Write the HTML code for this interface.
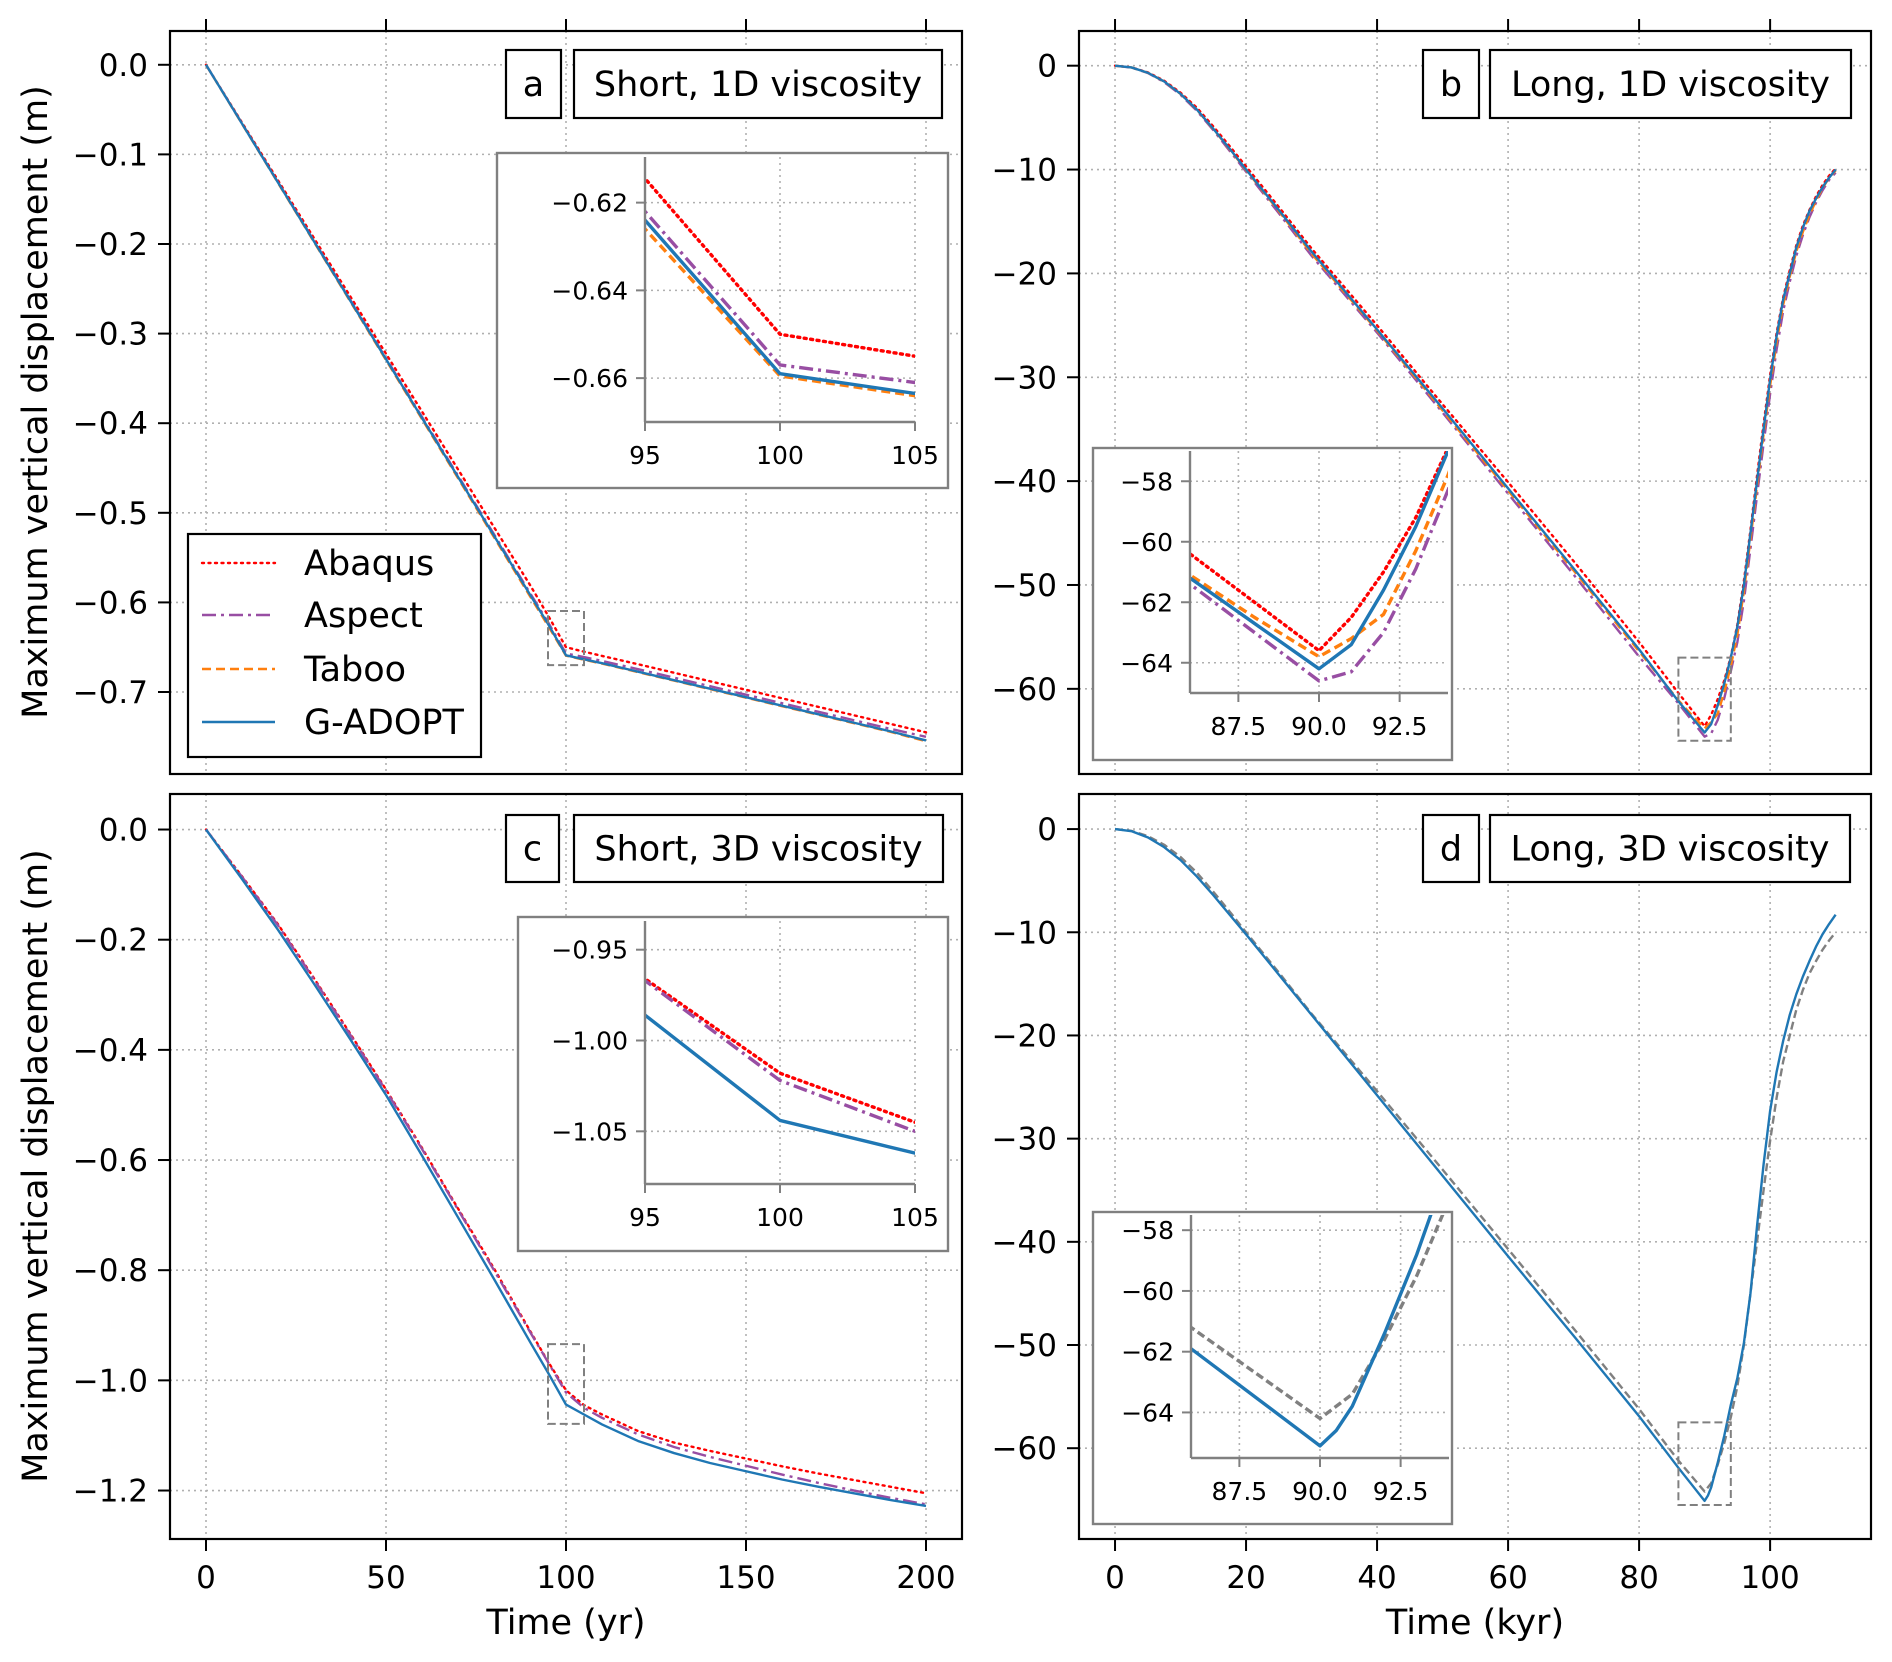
<!DOCTYPE html>
<html><head><meta charset="utf-8">
<style>
html,body{margin:0;padding:0;background:#fff;}
svg{display:block;font-family:"DejaVu Sans","Liberation Sans",sans-serif;}
</style></head>
<body>
<svg id="fig" width="1892" height="1662" viewBox="0 0 1892 1662" xmlns="http://www.w3.org/2000/svg">
<rect width="1892" height="1662" fill="#fff"/>
</svg>
<script>
// ---------- DATA ----------
// Panel a (Short, 1D viscosity), time in yr
const tA = [0,10,20,30,40,50,60,70,80,90,95,100,105,110,120,130,140,150,160,170,180,190,200];
const aAbaqus = [0,-0.0645,-0.129,-0.1935,-0.258,-0.3225,-0.387,-0.4515,-0.516,-0.5805,-0.6145,-0.650,-0.655,-0.6597,-0.669,-0.6785,-0.688,-0.6975,-0.707,-0.7165,-0.726,-0.7355,-0.745];
const aAspect = [0,-0.0655,-0.131,-0.1965,-0.262,-0.3275,-0.393,-0.4585,-0.524,-0.5895,-0.622,-0.657,-0.661,-0.6653,-0.6745,-0.684,-0.6935,-0.703,-0.7125,-0.722,-0.7315,-0.741,-0.750];
const aTaboo = [0,-0.0659,-0.1318,-0.1977,-0.2636,-0.3295,-0.3954,-0.4613,-0.5272,-0.5931,-0.626,-0.6595,-0.664,-0.6683,-0.6778,-0.6873,-0.6968,-0.7063,-0.7158,-0.7253,-0.7348,-0.7443,-0.755];
const aGadopt = [0,-0.0657,-0.1314,-0.1971,-0.2628,-0.3285,-0.3942,-0.4599,-0.5256,-0.5913,-0.624,-0.659,-0.6635,-0.6678,-0.6773,-0.6868,-0.6963,-0.7058,-0.7153,-0.7248,-0.7343,-0.7438,-0.754];
// Panel c (Short, 3D viscosity)
const tC = [0,10,20,30,40,50,60,70,80,90,95,100,105,110,120,130,140,150,160,170,180,190,200];
const cAbaqus = [0,-0.085,-0.172,-0.27,-0.37,-0.472,-0.578,-0.688,-0.797,-0.91,-0.966,-1.018,-1.045,-1.062,-1.092,-1.113,-1.128,-1.142,-1.156,-1.169,-1.181,-1.193,-1.205];
const cAspect = [0,-0.086,-0.174,-0.272,-0.372,-0.474,-0.58,-0.69,-0.8,-0.912,-0.967,-1.022,-1.05,-1.068,-1.098,-1.121,-1.139,-1.155,-1.171,-1.186,-1.2,-1.213,-1.225];
const cGadopt = [0,-0.09,-0.182,-0.28,-0.38,-0.482,-0.592,-0.704,-0.816,-0.93,-0.986,-1.044,-1.062,-1.08,-1.11,-1.132,-1.15,-1.165,-1.18,-1.193,-1.205,-1.217,-1.228];
// Panel b (Long, 1D viscosity), time in kyr
const tB = [0,2.5,5,7.5,10,12.5,15,17.5,20,25,30,40,50,60,70,80,86,88,90,91,92,93,94,95,96,97,98,99,100,101,102,103,104,105,106,107,108,109,110];
const bAbaqus = [0,-0.16,-0.64,-1.45,-2.6,-4.05,-5.85,-7.75,-9.7,-13.6,-17.6,-25.0,-32.6,-40.1,-47.7,-55.5,-60.4,-62.0,-63.6,-62.5,-61.0,-59.2,-56.9,-53.8,-49.6,-44.7,-39.5,-34.5,-29.8,-25.7,-22.3,-19.7,-17.3,-15.4,-13.9,-12.6,-11.5,-10.6,-9.9];
const bAspect = [0,-0.18,-0.7,-1.58,-2.8,-4.35,-6.2,-8.2,-10.2,-14.2,-18.3,-25.7,-33.4,-41.2,-49.0,-56.9,-61.4,-63.0,-64.6,-64.3,-63.0,-60.9,-58.3,-55.5,-51.5,-46.5,-41.4,-36.4,-31.6,-27.3,-23.6,-20.8,-18.3,-16.3,-14.6,-13.2,-12.0,-11.0,-10.3];
const bTaboo = [0,-0.17,-0.68,-1.53,-2.72,-4.25,-6.1,-8.05,-10.05,-14.0,-18.1,-25.5,-33.2,-40.9,-48.6,-56.4,-61.1,-62.5,-63.8,-63.2,-62.4,-60.3,-57.8,-54.8,-50.6,-45.6,-40.5,-35.5,-30.8,-26.6,-23.0,-20.3,-17.9,-16.0,-14.4,-13.0,-11.8,-10.8,-10.1];
const bGadopt = [0,-0.17,-0.68,-1.52,-2.71,-4.23,-6.07,-8.0,-10.0,-13.9,-17.9,-25.4,-33.0,-40.7,-48.4,-56.2,-61.2,-62.7,-64.2,-63.4,-61.6,-59.5,-57.0,-54.0,-50.0,-45.0,-40.0,-35.0,-30.2,-26.0,-22.5,-20.0,-17.5,-15.6,-14.0,-12.8,-11.7,-10.8,-10.0];
// Panel d (Long, 3D viscosity)
const tD = [0,2.5,5,7.5,10,12.5,15,17.5,20,25,30,40,50,60,70,80,86,88,90,90.5,91,92,93,94,95,96,97,98,99,100,101,102,103,104,105,106,107,108,109,110];
const dGadopt = [0,-0.2,-0.8,-1.75,-3.0,-4.6,-6.4,-8.3,-10.2,-14.1,-18.0,-25.8,-33.6,-41.4,-49.1,-56.9,-61.9,-63.5,-65.1,-64.6,-63.8,-61.4,-58.8,-55.8,-53.2,-49.8,-45.0,-38.5,-32.5,-27.3,-23.5,-20.5,-18.0,-16.0,-14.3,-12.8,-11.4,-10.2,-9.2,-8.3];
const dRef = bGadopt.slice();
const tDref = tB.slice();
// Tick labels
const xTicksShort = [0,50,100,150,200];
const xTicksLong = [0,20,40,60,80,100];
const yTicksA = [0.0,-0.1,-0.2,-0.3,-0.4,-0.5,-0.6,-0.7];
const yTicksC = [0.0,-0.2,-0.4,-0.6,-0.8,-1.0,-1.2];
const yTicksLong = [0,-10,-20,-30,-40,-50,-60];
const insetXShort = [95,100,105];
const insetXLong = [87.5,90.0,92.5];
const insetYA = [-0.62,-0.64,-0.66];
const insetYC = [-0.95,-1.00,-1.05];
const insetYLong = [-58,-60,-62,-64];
const legendLabels = ["Abaqus","Aspect","Taboo","G-ADOPT"];

// ---------- DRAWING ----------
const NS="http://www.w3.org/2000/svg";
const svg=document.getElementById('fig');
function mk(tag,attrs,parent){const e=document.createElementNS(NS,tag);for(const k in attrs)e.setAttribute(k,attrs[k]);(parent||svg).appendChild(e);return e;}
const STY={
 abaqus:{stroke:'#ff0000',dash:'2,4.5',cap:'round'},
 aspect:{stroke:'#984ea3',dash:'14,5,3,5',cap:'butt'},
 taboo:{stroke:'#ff7f0e',dash:'9,5',cap:'butt'},
 gadopt:{stroke:'#1f77b4',dash:'',cap:'butt'},
 ref:{stroke:'#808080',dash:'8,4',cap:'butt'}
};
function fmt(v,d){const s=Math.abs(v).toFixed(d);return (v<0?'\u2212':'')+s;}
let clipId=0;
function axes(o){
 const sx=v=>o.x0+(v-o.xmin)/(o.xmax-o.xmin)*(o.x1-o.x0);
 const sy=v=>o.y1-(v-o.ymin)/(o.ymax-o.ymin)*(o.y1-o.y0);
 return {sx,sy};
}
function line(g,ax,xs,ys,sty,w,name){
 let d='';
 for(let i=0;i<xs.length;i++){d+=(i?'L':'M')+ax.sx(xs[i]).toFixed(2)+','+ax.sy(ys[i]).toFixed(2);}
 const p=mk('path',{d:d,fill:'none',stroke:sty.stroke,'stroke-width':w,'stroke-dasharray':sty.dash,'stroke-linecap':sty.cap,'stroke-linejoin':'round'},g);
 
 
 return p;
}
function panel(P){
 const g=mk('g',{});
 
 
 const ax=axes(P);
 const grid=mk('g',{stroke:'#b0b0b0','stroke-width':1.6,'stroke-dasharray':'2,4'},g);
 
 
 P.xt.forEach(v=>mk('line',{x1:ax.sx(v),x2:ax.sx(v),y1:P.y0,y2:P.y1},grid));
 P.yt.forEach(v=>mk('line',{x1:P.x0,x2:P.x1,y1:ax.sy(v),y2:ax.sy(v)},grid));
 const cid='c'+(clipId++);
 const cp=mk('clipPath',{id:cid},g);mk('rect',{x:P.x0,y:P.y0,width:P.x1-P.x0,height:P.y1-P.y0},cp);
 const lg=mk('g',{'clip-path':'url(#'+cid+')'},g);
 P.series.forEach(s=>line(lg,ax,s.x,s.y,STY[s.s],2.4,s.n));
 const zr=mk('rect',{x:ax.sx(P.inset.xmin),y:ax.sy(P.inset.ymax),width:ax.sx(P.inset.xmax)-ax.sx(P.inset.xmin),height:ax.sy(P.inset.ymin)-ax.sy(P.inset.ymax),fill:'none',stroke:'#808080','stroke-width':2,'stroke-dasharray':'8,4'},g);
 
 
 const sp=mk('rect',{x:P.x0,y:P.y0,width:P.x1-P.x0,height:P.y1-P.y0,fill:'none',stroke:'#000','stroke-width':2.2},g);
 
 
 P.yt.forEach((v,i)=>{
  const y=ax.sy(v);
  mk('line',{x1:P.x0-12,x2:P.x0,y1:y,y2:y,stroke:'#000','stroke-width':2},g);
  const t=mk('text',{x:P.x0-22,y:y+11,'text-anchor':'end','font-size':31,fill:'#000'},g);
  t.textContent=P.ylab[i];
  
  
 });
 P.xt.forEach(v=>{
  const x=ax.sx(v);
  if(P.topTicks){mk('line',{x1:x,x2:x,y1:P.y0-12,y2:P.y0,stroke:'#000','stroke-width':2},g);}
  else{
   mk('line',{x1:x,x2:x,y1:P.y1,y2:P.y1+12,stroke:'#000','stroke-width':2},g);
   const t=mk('text',{x:x,y:P.y1+49,'text-anchor':'middle','font-size':31,fill:'#000'},g);
   t.textContent=String(v);
   
   
  }
 });
 const lb=P.lbox;
 const r1=mk('rect',{x:lb[0],y:lb[2],width:lb[1]-lb[0],height:lb[3]-lb[2],fill:'#fff',stroke:'#000','stroke-width':2.2},g);
 
 
 const t1=mk('text',{x:(lb[0]+lb[1])/2,y:(lb[2]+lb[3])/2+12,'text-anchor':'middle','font-size':35},g);
 t1.textContent=P.letter;
 
 
 const tb=P.tbox;
 const r2=mk('rect',{x:tb[0],y:tb[2],width:tb[1]-tb[0],height:tb[3]-tb[2],fill:'#fff',stroke:'#000','stroke-width':2.2},g);
 
 
 const t2=mk('text',{x:(tb[0]+tb[1])/2,y:(tb[2]+tb[3])/2+12,'text-anchor':'middle','font-size':35},g);
 t2.textContent=P.title;
 
 
 const I=P.inset;
 const ig=mk('g',{},g);
 
 
 mk('rect',{x:I.bx0,y:I.by0,width:I.bx1-I.bx0,height:I.by1-I.by0,fill:'#fff',stroke:'#808080','stroke-width':2.4},ig);
 const ia=axes({x0:I.x0,x1:I.x1,y0:I.y0,y1:I.y1,xmin:I.xmin,xmax:I.xmax,ymin:I.ymin,ymax:I.ymax});
 const igr=mk('g',{stroke:'#b0b0b0','stroke-width':1.6,'stroke-dasharray':'2,4'},ig);
 I.xt.forEach(v=>mk('line',{x1:ia.sx(v),x2:ia.sx(v),y1:I.y0,y2:I.y1},igr));
 I.yt.forEach(v=>mk('line',{x1:I.x0,x2:I.x1,y1:ia.sy(v),y2:ia.sy(v)},igr));
 const cid2='c'+(clipId++);
 const cp2=mk('clipPath',{id:cid2},ig);mk('rect',{x:I.x0,y:I.y0,width:I.x1-I.x0,height:I.y1-I.y0},cp2);
 const ilg=mk('g',{'clip-path':'url(#'+cid2+')'},ig);
 P.series.forEach(s=>line(ilg,ia,s.x,s.y,STY[s.s],3.4,'inset-'+s.n));
 mk('line',{x1:I.x0,x2:I.x0,y1:I.y0,y2:I.y1,stroke:'#808080','stroke-width':2.4},ig);
 mk('line',{x1:I.x0,x2:I.x1,y1:I.y1,y2:I.y1,stroke:'#808080','stroke-width':2.4},ig);
 I.yt.forEach((v,i)=>{const y=ia.sy(v);
  mk('line',{x1:I.x0-9,x2:I.x0,y1:y,y2:y,stroke:'#808080','stroke-width':2},ig);
  const t=mk('text',{x:I.x0-17,y:y+9,'text-anchor':'end','font-size':25},ig);
  t.textContent=I.ylab[i];
  
  });
 I.xt.forEach((v,i)=>{const x=ia.sx(v);
  mk('line',{x1:x,x2:x,y1:I.y1,y2:I.y1+9,stroke:'#808080','stroke-width':2},ig);
  const t=mk('text',{x:x,y:I.y1+42,'text-anchor':'middle','font-size':25},ig);
  t.textContent=I.xlab[i];
  
  });
 return g;
}
const shortInsetA={bx0:497,bx1:948,by0:153,by1:488,x0:645,x1:915,y0:157,y1:422,xmin:95,xmax:105,ymin:-0.670,ymax:-0.6096,xt:insetXShort,yt:insetYA,xlab:insetXShort.map(String),ylab:insetYA.map(v=>fmt(v,2))};
const shortInsetC={bx0:518,bx1:948,by0:917,by1:1251,x0:645,x1:915,y0:921,y1:1184,xmin:95,xmax:105,ymin:-1.079,ymax:-0.9342,xt:insetXShort,yt:insetYC,xlab:insetXShort.map(String),ylab:insetYC.map(v=>fmt(v,2))};
const longInsetB={bx0:1093,bx1:1452,by0:448,by1:760,x0:1190,x1:1448,y0:451,y1:693,xmin:86,xmax:94,ymin:-65,ymax:-57,xt:insetXLong,yt:insetYLong,xlab:insetXLong.map(v=>v.toFixed(1)),ylab:insetYLong.map(v=>fmt(v,0))};
const longInsetD={bx0:1093,bx1:1452,by0:1212,by1:1524,x0:1191,x1:1449,y0:1215,y1:1458,xmin:86,xmax:94,ymin:-65.5,ymax:-57.5,xt:insetXLong,yt:insetYLong,xlab:insetXLong.map(v=>v.toFixed(1)),ylab:insetYLong.map(v=>fmt(v,0))};

panel({name:'panel-a',x0:170,x1:962,y0:31,y1:774,xmin:-10,xmax:210,ymin:-0.7915,ymax:0.0377,xt:xTicksShort,yt:yTicksA,ylab:yTicksA.map(v=>fmt(v,1)),topTicks:true,
 lbox:[506,561,50,118],tbox:[574,942,50,118],letter:'a',title:'Short, 1D viscosity',inset:shortInsetA,
 series:[{x:tA,y:aAbaqus,s:'abaqus',n:'abaqus-line'},{x:tA,y:aAspect,s:'aspect',n:'aspect-line'},{x:tA,y:aTaboo,s:'taboo',n:'taboo-line'},{x:tA,y:aGadopt,s:'gadopt',n:'gadopt-line'}]});
panel({name:'panel-b',x0:1079,x1:1871,y0:31,y1:774,xmin:-5.5,xmax:115.4,ymin:-68.2,ymax:3.34,xt:xTicksLong,yt:yTicksLong,ylab:yTicksLong.map(v=>fmt(v,0)),topTicks:true,
 lbox:[1423,1479,50,118],tbox:[1490,1851,50,118],letter:'b',title:'Long, 1D viscosity',inset:longInsetB,
 series:[{x:tB,y:bAbaqus,s:'abaqus',n:'abaqus-line'},{x:tB,y:bAspect,s:'aspect',n:'aspect-line'},{x:tB,y:bTaboo,s:'taboo',n:'taboo-line'},{x:tB,y:bGadopt,s:'gadopt',n:'gadopt-line'}]});
panel({name:'panel-c',x0:170,x1:962,y0:794,y1:1539,xmin:-10,xmax:210,ymin:-1.288,ymax:0.0645,xt:xTicksShort,yt:yTicksC,ylab:yTicksC.map(v=>fmt(v,1)),topTicks:false,
 lbox:[506,559,815,882],tbox:[574,943,815,882],letter:'c',title:'Short, 3D viscosity',inset:shortInsetC,
 series:[{x:tC,y:cAbaqus,s:'abaqus',n:'abaqus-line'},{x:tC,y:cAspect,s:'aspect',n:'aspect-line'},{x:tC,y:cGadopt,s:'gadopt',n:'gadopt-line'}]});
panel({name:'panel-d',x0:1079,x1:1871,y0:794,y1:1539,xmin:-5.5,xmax:115.4,ymin:-68.8,ymax:3.4,xt:xTicksLong,yt:yTicksLong,ylab:yTicksLong.map(v=>fmt(v,0)),topTicks:false,
 lbox:[1423,1479,815,882],tbox:[1490,1850,815,882],letter:'d',title:'Long, 3D viscosity',inset:longInsetD,
 series:[{x:tDref,y:dRef,s:'ref',n:'reference-1d-line'},{x:tD,y:dGadopt,s:'gadopt',n:'gadopt-line'}]});

const leg=mk('g',{});


mk('rect',{x:188,y:534,width:293,height:223,fill:'#fff',stroke:'#000','stroke-width':2.2},leg);
const legKeys=['abaqus','aspect','taboo','gadopt'];
const legY=[563,615,669,722];
legendLabels.forEach((lab,i)=>{
 const s=STY[legKeys[i]];
 const l=mk('line',{x1:202,x2:275,y1:legY[i],y2:legY[i],stroke:s.stroke,'stroke-width':2.4,'stroke-dasharray':s.dash,'stroke-linecap':s.cap},leg);
 
 
 const t=mk('text',{x:304,y:legY[i]+12,'font-size':35},leg);
 t.textContent=lab;
 
 
});
function label(txt,x,y,rot,name){const t=mk('text',{x:x,y:y,'text-anchor':'middle','font-size':35,transform:rot?('rotate(-90 '+x+' '+y+')'):''});t.textContent=txt;}
label('Maximum vertical displacement (m)',47,402,true,'y-axis-title-top');
label('Maximum vertical displacement (m)',47,1166,true,'y-axis-title-bottom');
label('Time (yr)',566,1634,false,'x-axis-title-short');
label('Time (kyr)',1475,1634,false,'x-axis-title-long');
</script>
</body></html>
